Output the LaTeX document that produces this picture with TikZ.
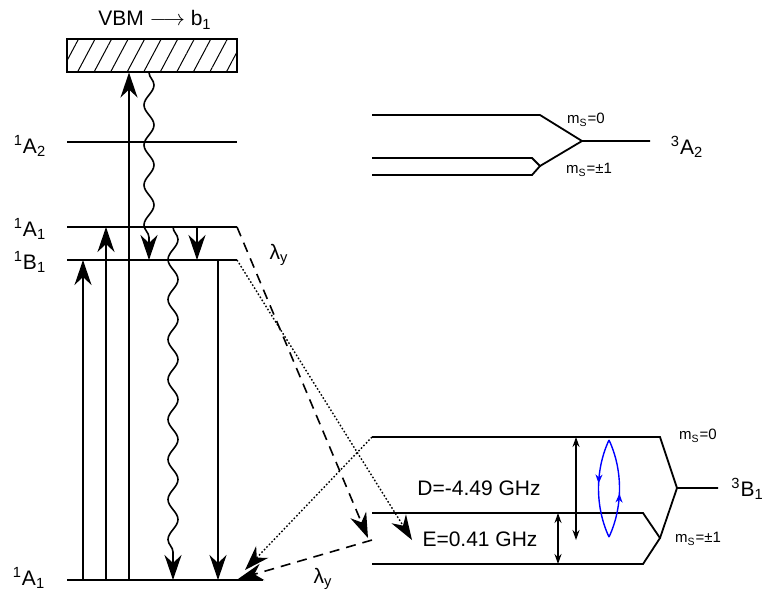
\documentclass[tikz,border=0pt]{standalone}
\usepackage{fontspec}
\setmainfont{Liberation Sans}
\usetikzlibrary{positioning,arrows.meta,patterns.meta,decorations.pathmorphing,decorations.markings}

\begin{document}
\begin{tikzpicture}[x=0.5pt,y=-0.5pt,
  every node/.style={font=\fontsize{10.5}{12}\selectfont,inner sep=1pt},
  lvl/.style={line width=0.9pt},
  vbmbox/.style={draw,line width=0.9pt,minimum width=85pt,minimum height=16.5pt,inner sep=0pt,
    pattern={Lines[angle=62,distance=7.3pt,line width=0.5pt]}},
  arr/.style={-{Stealth[length=12.5pt,width=8.5pt,inset=4pt]},line width=0.8pt},
  wavy/.style={arr,decorate,decoration={snake,amplitude=2.5pt,segment length=20pt,post length=10pt}},
  dsh/.style={arr,dash pattern=on 5pt off 3.5pt},
  dot/.style={arr,line width=0.7pt,dash pattern=on 0.8pt off 1pt},
  dim/.style={{Stealth[length=5pt,width=3.5pt]}-{Stealth[length=5pt,width=3.5pt]},line width=0.7pt},
  ms/.style={font=\fontsize{7.5}{9}\selectfont},
  spin/.style={blue,line width=0.7pt,postaction={decorate},
    decoration={markings,mark=at position 0.45 with {\arrow{Stealth[length=4.5pt,width=3.5pt]}}}}]
\useasboundingbox (0,0) rectangle (763,591);

% singlet side
\node[vbmbox] (vbm) at (152,55.5) {};
\node (vbmlab) at (155,20) {VBM $\longrightarrow$ b\textsubscript{1}};
\coordinate (a2L) at (67,142);  \coordinate (a2R) at (237,142);
\coordinate (a1L) at (67,227);  \coordinate (a1R) at (237,227);
\coordinate (b1L) at (67,260);  \coordinate (b1R) at (237,260);
\coordinate (gL)  at (67,580);  \coordinate (gR)  at (263,580);
\draw[lvl] (a2L) -- (a2R);
\draw[lvl] (a1L) -- (a1R);
\draw[lvl] (b1L) -- (b1R);
\draw[lvl] (gL) -- (gR);
\node (la2) at (30,146) {\textsuperscript{1}A\textsubscript{2}};
\node (la1) at (30,229) {\textsuperscript{1}A\textsubscript{1}};
\node (lb1) at (30,262) {\textsuperscript{1}B\textsubscript{1}};
\node (lg)  at (29,578) {\textsuperscript{1}A\textsubscript{1}};

% columns of the transitions
\coordinate (c1) at (83,0);  \coordinate (c2) at (106,0); \coordinate (c3) at (129,0);
\coordinate (c4) at (149,0); \coordinate (c5) at (173,0); \coordinate (c6) at (197,0);
\coordinate (c7) at (218,0);
\draw[arr] (c1 |- gL) -- (c1 |- b1L);
\draw[arr] (c2 |- gL) -- (c2 |- a1L);
\draw[arr] (c3 |- gL) -- (c3 |- vbm.south);
\draw[wavy] (c4 |- vbm.south) -- (c4 |- b1L);
\draw[wavy] (c5 |- a1L) -- (c5 |- gL);
\draw[arr] (c6 |- a1L) -- (c6 |- b1L);
\draw[arr] (c7 |- b1L) -- (c7 |- gL);

% triplet 3A2
\coordinate (tA0) at (372,115); \coordinate (tA0k) at (540,115);
\coordinate (tAj) at (582,141); \coordinate (tAe) at (650,141);
\coordinate (tAp) at (372,158); \coordinate (tApk) at (532,158);
\coordinate (tAm) at (372,175); \coordinate (tAmk) at (532,175);
\coordinate (tAs) at (540,166);
\draw[lvl] (tA0) -- (tA0k) -- (tAj) -- (tAe);
\draw[lvl] (tAp) -- (tApk) -- (tAs) -- (tAmk) -- (tAm);
\draw[lvl] (tAs) -- (tAj);
\node[ms] (a2m0) at (586,120) {m\textsubscript{S}=0};
\node[ms] (a2m1) at (589,170) {m\textsubscript{S}=±1};
\node (tA) at (687,147) {\textsuperscript{3}A\textsubscript{2}};

% triplet 3B1
\coordinate (tB0) at (372,437); \coordinate (tB0k) at (660,437);
\coordinate (tBj) at (677,488); \coordinate (tBe) at (718,488);
\coordinate (tBp) at (372,513); \coordinate (tBpk) at (643,513);
\coordinate (tBm) at (372,564); \coordinate (tBmk) at (643,564);
\coordinate (tBs) at (660,538);
\draw[lvl] (tB0) -- (tB0k) -- (tBj) -- (tBe);
\draw[lvl] (tBp) -- (tBpk) -- (tBs) -- (tBmk) -- (tBm);
\draw[lvl] (tBs) -- (tBj);
\node[ms] (b1m0) at (698,436) {m\textsubscript{S}=0};
\node[ms] (b1m1) at (698,539) {m\textsubscript{S}=±1};
\node[anchor=west] (tB) at (729,489) {\textsuperscript{3}B\textsubscript{1}};
\node (dlab) at (479,488) {D=-4.49 GHz};
\node (elab) at (480,539) {E=0.41 GHz};
\coordinate (dx) at (576,0); \coordinate (ex) at (558,0);
\coordinate (tBmid) at (372,540);
\draw[dim] (dx |- tB0) -- (dx |- tBmid);
\draw[dim] (ex |- tBp) -- (ex |- tBm);
\coordinate (spinT) at (609,440); \coordinate (spinB) at (609,537);
\draw[spin] (spinT) .. controls +(-14,30) and +(-14,-30) .. (spinB);
\draw[spin] (spinB) .. controls +(14,-30) and +(14,30) .. (spinT);

% intersystem crossings
\coordinate (isc1) at (368,538); \coordinate (isc2) at (412,540);
\coordinate (gT1) at (238,579);  \coordinate (gT2) at (245,570);
\draw[dsh] (a1R) -- (isc1);
\draw[dot] (b1R) -- (isc2);
\draw[dot] (tB0) -- (gT2);
\draw[dsh] (tBmid) -- (gT1);
\node (lam1) at (279,255) {λ\textsubscript{y}};
\node (lam2) at (323,579) {λ\textsubscript{y}};
\end{tikzpicture}
\end{document}
